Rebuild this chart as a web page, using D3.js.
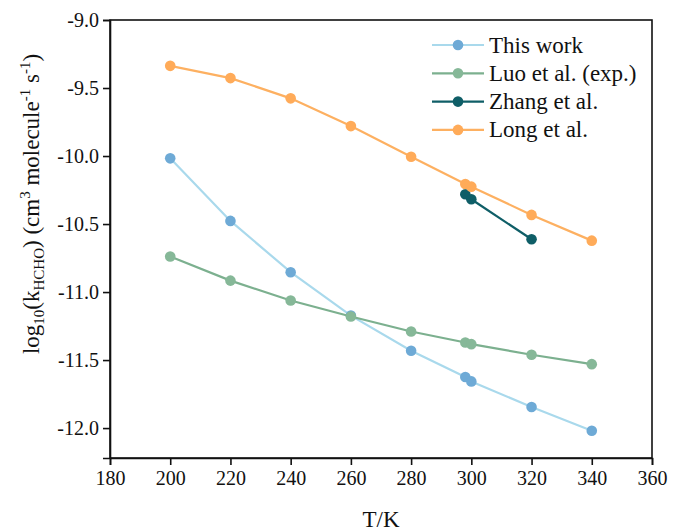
<!DOCTYPE html>
<html>
<head>
<meta charset="utf-8">
<script src="https://cdn.jsdelivr.net/npm/d3@7"></script>
<style>
  body { margin: 0; background: #fff; }
  svg text { font-family: "Liberation Serif", "Times New Roman", "DejaVu Serif", serif !important; fill: #111; }
</style>
</head>
<body>
<div id="chart"></div>
<script>
// Data
const temps = [200, 220, 240, 260, 280, 298, 300, 320, 340];
const thisWork = [-10.017, -10.477, -10.854, -11.173, -11.432, -11.625, -11.657, -11.845, -12.02];
const luoExp = [-10.739, -10.916, -11.062, -11.18, -11.29, -11.371, -11.383, -11.461, -11.53];
const zhangTemps = [298, 300, 320];
const zhang = [-10.281, -10.318, -10.612];
const longEtAl = [-9.337, -9.427, -9.576, -9.78, -10.005, -10.206, -10.225, -10.433, -10.622];

const xTicks = [180, 200, 220, 240, 260, 280, 300, 320, 340, 360];
const yTicks = [-9.0, -9.5, -10.0, -10.5, -11.0, -11.5, -12.0];

const series = [
  { name: "This work", t: temps, v: thisWork, line: "#a9d9ec", dot: "#6eaad6" },
  { name: "Luo et al. (exp.)", t: temps, v: luoExp, line: "#7cb08f", dot: "#86b898" },
  { name: "Zhang et al.", t: zhangTemps, v: zhang, line: "#0f5e67", dot: "#0f5e67" },
  { name: "Long et al.", t: temps, v: longEtAl, line: "#fdb061", dot: "#ffab59" }
];

const serif = "'Liberation Serif', 'Times New Roman', 'DejaVu Serif', serif";
const width = 673, height = 531;
const margin = { left: 110, right: 21, top: 20, bottom: 73 };

const svg = d3.select("#chart").append("svg")
  .attr("width", width)
  .attr("height", height)
  .style("font-family", serif);

const x = d3.scaleLinear().domain([180, 360]).range([margin.left, width - margin.right]);
const y = d3.scaleLinear().domain([-12.22, -9.0]).range([height - margin.bottom, margin.top]);

// frame
svg.append("rect")
  .attr("x", x(180)).attr("y", y(-9.0))
  .attr("width", x(360) - x(180)).attr("height", y(-12.22) - y(-9.0))
  .attr("fill", "none").attr("stroke", "#111").attr("stroke-width", 1.6);

const xAxis = svg.append("g")
  .attr("transform", "translate(0," + y(-12.22) + ")")
  .call(d3.axisBottom(x).tickValues(xTicks).tickSize(7).tickPadding(6).tickFormat(d3.format("d")));
const yAxis = svg.append("g")
  .attr("transform", "translate(" + x(180) + ",0)")
  .call(d3.axisLeft(y).tickValues(yTicks).tickSize(7).tickPadding(4).tickFormat(d3.format(".1f")));

[xAxis, yAxis].forEach(function (g) {
  g.attr("font-family", serif);
  g.select(".domain").attr("stroke", "#111").attr("stroke-width", 1.6);
  g.selectAll(".tick line").attr("stroke", "#111").attr("stroke-width", 1.6);
  g.selectAll(".tick text").style("font-family", serif).style("font-size", "20px").style("fill", "#111");
});
yAxis.selectAll(".tick text").text(function (d) { return d3.format(".1f")(d).replace("−", "-"); });

// axis titles
svg.append("text")
  .attr("x", (x(180) + x(360)) / 2)
  .attr("y", 527)
  .attr("text-anchor", "middle")
  .style("font-size", "23px")
  .text("T/K");

const yt = svg.append("text")
  .attr("transform", "translate(39,204) rotate(-90)")
  .attr("text-anchor", "middle")
  .style("font-size", "23px");
yt.append("tspan").text("log");
yt.append("tspan").style("font-size", "15px").attr("dy", 5).text("10");
yt.append("tspan").attr("dy", -5).text("(k");
yt.append("tspan").style("font-size", "15px").attr("dy", 5).text("HCHO");
yt.append("tspan").attr("dy", -5).text(") (cm");
yt.append("tspan").style("font-size", "15px").attr("dy", -9).text("3");
yt.append("tspan").attr("dy", 9).text(" molecule");
yt.append("tspan").style("font-size", "15px").attr("dy", -9).text("-1");
yt.append("tspan").attr("dy", 9).text(" s");
yt.append("tspan").style("font-size", "15px").attr("dy", -9).text("-1");
yt.append("tspan").attr("dy", 9).text(")");

// series
const line = d3.line().x(d => x(d[0])).y(d => y(d[1]));

series.forEach(function (s) {
  const pts = s.t.map((t, i) => [t, s.v[i]]);
  svg.append("path")
    .attr("d", line(pts))
    .attr("fill", "none")
    .attr("stroke", s.line)
    .attr("stroke-width", 2.2);
  svg.append("g").selectAll("circle")
    .data(pts)
    .enter()
    .append("circle")
    .attr("cx", d => x(d[0]))
    .attr("cy", d => y(d[1]))
    .attr("r", 5.3)
    .attr("fill", s.dot);
});

// legend
const legend = svg.append("g").attr("transform", "translate(432,45)");
series.forEach(function (s, i) {
  const g = legend.append("g").attr("transform", "translate(0," + i * 28.3 + ")");
  g.append("line").attr("x1", 0).attr("x2", 52).attr("y1", 0).attr("y2", 0)
    .attr("stroke", s.line).attr("stroke-width", 2.2);
  g.append("circle").attr("cx", 26).attr("cy", 0).attr("r", 5.3).attr("fill", s.dot);
  g.append("text").attr("x", 57).attr("y", 7.5).style("font-size", "23px").text(s.name);
});
</script>
</body>
</html>
